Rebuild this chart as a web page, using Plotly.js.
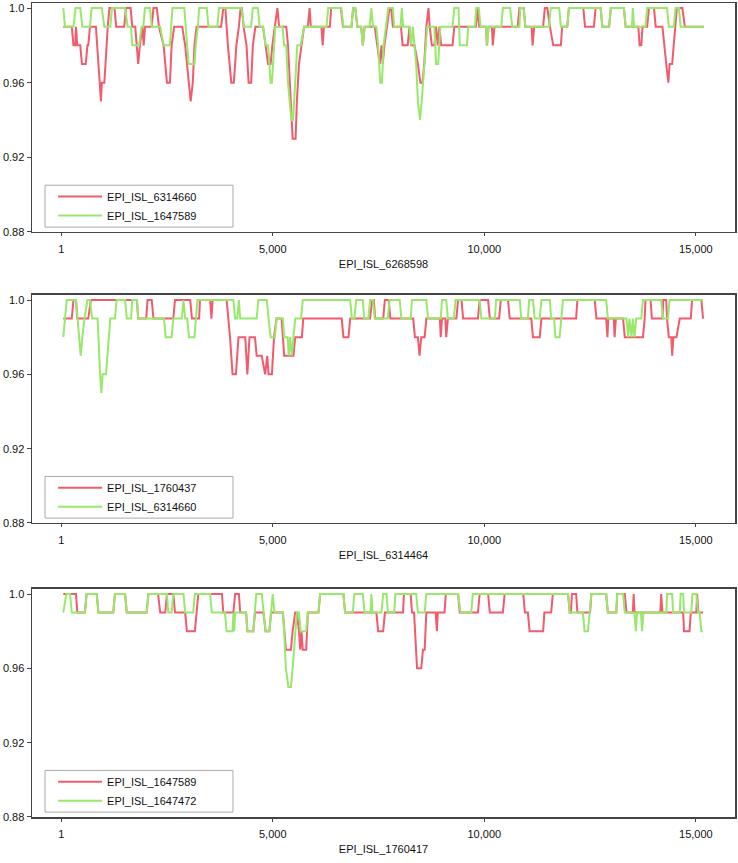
<!DOCTYPE html>
<html>
<head>
<meta charset="utf-8">
<script src="https://cdn.plot.ly/plotly-3.0.1.min.js"></script>
<style>
  body { margin: 0; background: #fff; }
  #chart { width: 738px; height: 863px; }
</style>
</head>
<body>
<div id="chart"></div>
<script>
// similarity of each query genome against the reference named under the x axis
const refNames = ['EPI_ISL_6268598', 'EPI_ISL_6314464', 'EPI_ISL_1760417'];
const redNames = ['EPI_ISL_6314660', 'EPI_ISL_1760437', 'EPI_ISL_1647589'];
const greenNames = ['EPI_ISL_1647589', 'EPI_ISL_6314660', 'EPI_ISL_1647472'];

const tickVals = [1, 5000, 10000, 15000];
const tickText = ['1', '5,000', '10,000', '15,000'];
const yTickVals = [0.88, 0.92, 0.96, 1.0];
const yTickText = ['0.88', '0.92', '0.96', '1.0'];

// panel 1
const red1X = [50,250,290,330,350,380,450,490,580,620,640,680,820,900,940,960,1020,1100,1140,1260,1300,1490,1530,1640,1680,1750,1790,1820,1860,1920,1950,1980,2140,2180,2260,2310,2420,2500,2570,2610,2670,2860,2930,3010,3060,3110,3150,3200,3780,3830,3880,3940,4020,4080,4140,4200,4240,4270,4310,4380,4430,4490,4530,4590,4770,4830,4890,4950,4990,5050,5110,5150,5320,5360,5400,5440,5470,5540,5570,5620,5680,5740,5830,5870,5900,6150,6180,6210,6350,6380,6610,6660,6860,6900,6950,7000,7090,7130,7170,7410,7470,7530,7570,7600,7640,7700,7760,7800,7840,8030,8070,8190,8230,8270,8350,8430,8490,8540,8580,8630,8680,8710,8760,8820,8860,8900,8940,8980,9250,9290,9800,9840,9880,10040,10060,10100,10180,10200,10240,10790,10830,10930,10970,11120,11140,11180,11390,11430,11490,11550,11630,11810,11840,11960,12000,12340,12380,12590,12630,12750,12790,12950,12990,13300,13340,13640,13670,13710,13740,13850,13890,14010,14050,14210,14250,14300,14350,14380,14440,14510,14550,14680,14740,15190];
const red1Y = [.99,.99,.98,.98,.99,.98,.98,.97,.97,.98,.98,.99,.99,.96,.95,.96,.96,.99,1,1,.99,.99,1,1,.99,.99,.98,.97,.98,.99,.98,.99,.99,1,1,.99,.98,.96,.96,.98,.99,.99,.98,.96,.95,.96,.98,.99,.99,1,1,.98,.96,.96,.98,.99,1,1,.99,.98,.96,.96,.98,.99,.99,.98,.97,.97,.98,.99,1,.99,.99,.98,.96,.94,.93,.93,.95,.97,.98,.99,.99,1,.99,.99,.98,.99,.99,1,1,.99,.99,1,1,.99,.99,.98,.99,.99,.98,.97,.98,.97,.98,.99,1,1,.99,.99,.98,.98,.99,.98,.98,.97,.96,.96,.97,.99,1,.99,.98,.98,.99,.98,.99,.98,.98,.99,.99,1,.99,.99,.98,.99,.99,.98,.99,.99,1,1,.99,.99,.98,.99,.99,1,1,.99,.98,.98,.99,.99,1,1,.99,.99,1,1,.99,.99,1,1,.99,.99,.98,.98,.99,.99,1,1,.99,.99,.98,.97,.96,.97,.97,.99,1,1,.99,.99];
const green1X = [50,90,290,340,450,500,680,720,960,1020,1160,1200,1510,1570,1650,1680,1840,1900,1940,1980,2100,2140,2340,2420,2570,2630,2910,2970,3010,3150,3180,3230,3260,3440,3480,3690,3730,4260,4320,4490,4530,4650,4690,4770,4830,4890,4950,4980,5030,5060,5230,5270,5320,5360,5400,5440,5480,5530,5580,5660,5740,6270,6310,6620,6670,6860,6900,6950,7000,7090,7130,7170,7290,7330,7370,7450,7490,7540,7580,7620,7680,7730,7840,7870,8020,8050,8080,8230,8270,8310,8350,8390,8430,8480,8520,8580,8650,8820,8860,8910,8960,9250,9290,9390,9420,9590,9620,9780,9810,9870,9910,10040,10070,10100,10400,10440,10610,10660,10830,10850,10930,10970,11530,11570,11770,11810,11960,12000,12750,12790,12950,12990,13300,13340,13490,13510,13540,13810,13850,14320,14360,14480,14520,14600,14640,15190];
const green1Y = [1,.99,.99,1,1,.99,.99,1,1,.99,.99,1,1,.99,.99,.98,.98,.99,.99,1,1,.99,.99,.98,.98,1,1,.98,.97,.97,.98,.99,1,1,.99,.99,1,1,.99,.99,1,1,.99,.99,.98,.98,.96,.96,.98,.99,.99,.98,.98,.96,.95,.94,.94,.96,.98,.98,.99,.99,1,1,.99,.99,1,1,.99,.99,.98,.99,.99,1,.99,.99,.98,.96,.96,.98,.99,1,1,.99,.99,1,.99,.99,.98,.99,.98,.97,.95,.94,.95,.97,.99,.99,.97,.97,.99,.99,1,1,.98,.98,.99,.99,1,1,.99,.99,.98,.99,.99,1,1,.99,.99,1,1,.99,.99,1,1,.99,.99,1,1,.99,.99,1,1,.99,.99,1,.99,.99,1,1,.99,.99,1,1,.99,.99];

// panel 2
const red2X = [50,250,290,350,380,640,700,1790,1820,2010,2040,2140,2180,2650,2690,3050,3090,3260,3280,3520,3550,3580,3910,3950,3990,4050,4130,4190,4350,4400,4450,4580,4620,4740,4820,4870,4900,4980,5030,5090,5210,5270,5490,5530,5690,5720,6630,6670,6790,6830,7300,7350,7390,7420,7610,7650,7740,7780,8320,8360,8430,8470,8510,8590,8630,8950,8970,9000,9080,9100,9140,9340,9380,9460,9500,9850,9890,10090,10130,10350,10390,10560,10600,11110,11150,11310,11350,12170,12200,12610,12650,12880,12910,12930,13060,13080,13110,13280,13320,13750,13790,13810,13930,13960,14210,14230,14300,14320,14360,14420,14440,14470,14540,14620,14880,14910,15130,15170];
const red2Y = [.99,.99,1,1,.99,.99,1,1,.99,.99,1,1,.99,.99,1,1,.99,.99,1,1,.99,1,1,.99,.98,.96,.96,.98,.98,.96,.98,.98,.97,.97,.96,.97,.96,.96,.98,.99,.99,.97,.97,.98,.98,.99,.99,.98,.98,.99,.99,1,1,.99,.99,1,1,.99,.99,.98,.98,.97,.98,.98,.99,.99,.98,.99,.99,.98,.99,.99,1,1,.99,.99,1,1,.99,.99,1,1,.99,.99,.98,.98,.99,.99,1,1,.99,.99,.98,.99,.99,.98,.99,.99,.98,.98,.99,1,1,.99,.99,1,1,.99,.98,.98,.97,.98,.98,.99,.99,1,1,.99];
const green2X = [50,130,350,390,430,460,500,550,620,680,730,860,920,950,980,1060,1160,1270,1310,1510,1550,1650,1680,1790,1820,2430,2470,2610,2650,2850,2890,2930,2980,3020,3150,3190,3220,4070,4110,4160,4200,4230,4620,4660,4860,4900,4950,5050,5090,5240,5270,5350,5380,5410,5450,5490,5530,5670,5710,6830,6870,6930,6970,7130,7160,7260,7300,7370,7410,7720,7760,8000,8040,8260,8290,8630,8670,8970,9000,9100,9140,9280,9320,9890,9930,10250,10280,10840,10870,11030,11060,11150,11190,11310,11350,11550,11580,11650,11680,11780,11820,11860,12880,12920,13360,13400,13430,13480,13510,13550,13590,13710,13750,14180,14220,14340,14380,15170];
const green2Y = [.98,1,1,.99,.98,.97,.98,.99,1,1,.99,.99,.96,.95,.96,.96,.99,.99,1,1,.99,.99,1,1,.99,.99,.98,.98,.99,.99,1,.99,.99,.98,.98,.99,1,1,.99,.99,1,.99,.99,1,1,.99,.98,.98,.99,.99,.98,.98,.97,.98,.97,.98,.99,.99,1,1,.99,.99,1,1,.99,.99,1,1,.99,.99,1,1,.99,.99,1,1,.99,.99,1,1,.99,.99,1,1,.99,.99,1,1,.99,.99,1,1,.99,.99,1,1,.99,.99,.98,.98,.99,1,1,.99,.99,.98,.99,.98,.99,.98,.99,.99,1,1,.99,.99,1,1];

// panel 3
const red3X = [50,350,380,560,600,840,880,1230,1270,1510,1550,2020,2060,2290,2340,2460,2500,2650,2690,2930,2970,3160,3200,3240,3800,3830,4070,4110,4200,4230,4370,4400,4540,4580,4780,4830,4920,4960,5240,5270,5310,5430,5470,5530,5570,5620,5650,5680,5710,5790,5830,6080,6120,6670,6710,7450,7490,7610,7650,8080,8100,8260,8290,8340,8380,8410,8510,8550,8590,8630,8850,8880,8900,9060,9090,9380,9420,9850,9890,10090,10130,10440,10480,10920,10960,11030,11070,11390,11420,11580,11620,11980,12020,12050,12070,12170,12200,12500,12530,12880,12920,13120,13140,13320,13360,13510,13530,13550,14160,14180,14210,14700,14720,14850,14880,15010,15030,15060,15170];
const red3Y = [1,1,.99,.99,1,1,.99,.99,1,1,.99,.99,1,1,.99,.99,1,1,.99,.99,.98,.98,.99,1,1,.99,.99,1,1,.99,.99,.98,.98,.99,.99,.98,.98,.99,.99,.98,.97,.97,.98,.99,.99,.98,.97,.98,.97,.97,.99,.99,1,1,.99,.99,.98,.98,.99,.99,1,1,.99,.99,.97,.96,.96,.97,.97,.99,.99,.98,.99,.99,1,1,.99,.99,1,1,.99,.99,1,1,.99,.99,.98,.98,.99,.99,1,1,.99,.99,1,1,.99,.99,1,1,.99,.99,1,1,.99,.99,1,.99,.99,1,.99,.99,.98,.98,.99,.99,1,.99,.99];
const green3X = [50,120,210,250,560,600,840,880,1230,1270,1510,1550,2020,2060,2500,2530,2610,2650,2890,2930,3120,3160,3520,3560,3870,3910,4050,4070,4090,4110,4370,4400,4540,4580,4610,4740,4780,4830,4920,4960,5000,5040,5240,5270,5310,5370,5430,5470,5530,5570,5620,5660,5790,5830,6080,6120,6670,6710,6890,6930,7130,7170,7310,7330,7360,7570,7610,7690,7720,7870,7900,8390,8430,8590,8630,9380,9440,9690,9730,11980,12020,12330,12370,12450,12490,12530,12880,12920,13120,13140,13280,13320,13550,13580,13610,13700,13730,13760,14300,14320,14440,14460,14620,14640,14700,14720,14890,14920,15010,15050,15090,15130,15170];
const green3Y = [.99,1,1,.99,.99,1,1,.99,.99,1,1,.99,.99,1,1,.99,.99,1,1,.99,.99,1,1,.99,.99,.98,.98,.99,.98,.99,.99,.98,.98,.99,1,1,.99,.98,.98,.99,1,.99,.99,.98,.96,.95,.95,.96,.98,.99,.99,.98,.98,.99,.99,1,1,.99,.99,1,1,.99,.99,1,.99,.99,1,1,.99,.99,1,1,.99,.99,1,1,.99,.99,1,1,.99,.99,.98,.98,.99,1,1,.99,.99,1,1,.99,.99,.98,.99,.99,.98,.99,.99,1,1,.99,.99,1,1,.99,.99,1,1,.99,.99,.98,.98];

const RED = '#f25a6d';
const GREEN = '#98e86c';
const FONT = 'Liberation Sans, Arial, sans-serif';

const panels = [
  { rx: red1X, ry: red1Y, gx: green1X, gy: green1Y, domain: [0.7187, 1] },
  { rx: red2X, ry: red2Y, gx: green2X, gy: green2Y, domain: [0.3612, 0.6413] },
  { rx: red3X, ry: red3Y, gx: green3X, gy: green3Y, domain: [0, 0.2801] }
];

const data = [];
const layout = {
  width: 738,
  height: 863,
  margin: { l: 32, r: 3, t: 3, b: 46 },
  paper_bgcolor: '#fff',
  plot_bgcolor: '#fff',
  font: { family: FONT, size: 11, color: '#111' },
  shapes: []
};

panels.forEach((p, i) => {
  const n = i === 0 ? '' : String(i + 1);
  const legendKey = 'legend' + n;
  data.push({
    x: p.rx, y: p.ry, type: 'scatter', mode: 'lines',
    name: redNames[i], line: { color: RED, width: 2 },
    xaxis: 'x' + n, yaxis: 'y' + n, legend: legendKey
  });
  data.push({
    x: p.gx, y: p.gy, type: 'scatter', mode: 'lines',
    name: greenNames[i], line: { color: GREEN, width: 2 },
    xaxis: 'x' + n, yaxis: 'y' + n, legend: legendKey
  });

  layout['xaxis' + n] = {
    domain: [0, 1],
    anchor: 'y' + n,
    range: [-690, 15925],
    tickvals: tickVals,
    ticktext: tickText,
    ticks: 'outside',
    ticklen: 3,
    tickcolor: '#444',
    showgrid: false,
    zeroline: false,
    showline: true,
    mirror: true,
    linecolor: '#444',
    linewidth: 1.5,
    ticklabelstandoff: 3,
    tickfont: { family: FONT, size: 11, color: '#111' },
    title: { text: refNames[i], font: { family: FONT, size: 11, color: '#111' }, standoff: 6 },
    automargin: false
  };
  layout['yaxis' + n] = {
    domain: p.domain,
    anchor: 'x' + n,
    range: [0.88, 1.0027],
    tickvals: yTickVals,
    ticktext: yTickText,
    ticks: 'outside',
    ticklen: 4,
    tickcolor: '#444',
    showgrid: false,
    zeroline: false,
    showline: true,
    mirror: true,
    linecolor: '#444',
    linewidth: 1.5,
    tickfont: { family: FONT, size: 11, color: '#111' },
    automargin: false
  };

  // legend box sits in the lower left corner of each panel
  const top = p.domain[0] + (p.domain[1] - p.domain[0]) * 0.19;
  const bottom = p.domain[0] + 0.006;
  layout[legendKey] = {
    x: 0.03,
    y: top + 0.008,
    xanchor: 'left',
    yanchor: 'top',
    bgcolor: 'rgba(0,0,0,0)',
    borderwidth: 0,
    itemwidth: 44,
    font: { family: FONT, size: 11, color: '#111' }
  };
  layout.shapes.push({
    type: 'rect', xref: 'paper', yref: 'paper',
    x0: 0.0185, x1: 0.2859, y0: bottom, y1: top + 0.004,
    line: { color: '#aaa', width: 1 }, fillcolor: 'rgba(0,0,0,0)'
  });
});

Plotly.newPlot('chart', data, layout, { displayModeBar: false, staticPlot: true });
</script>
</body>
</html>
